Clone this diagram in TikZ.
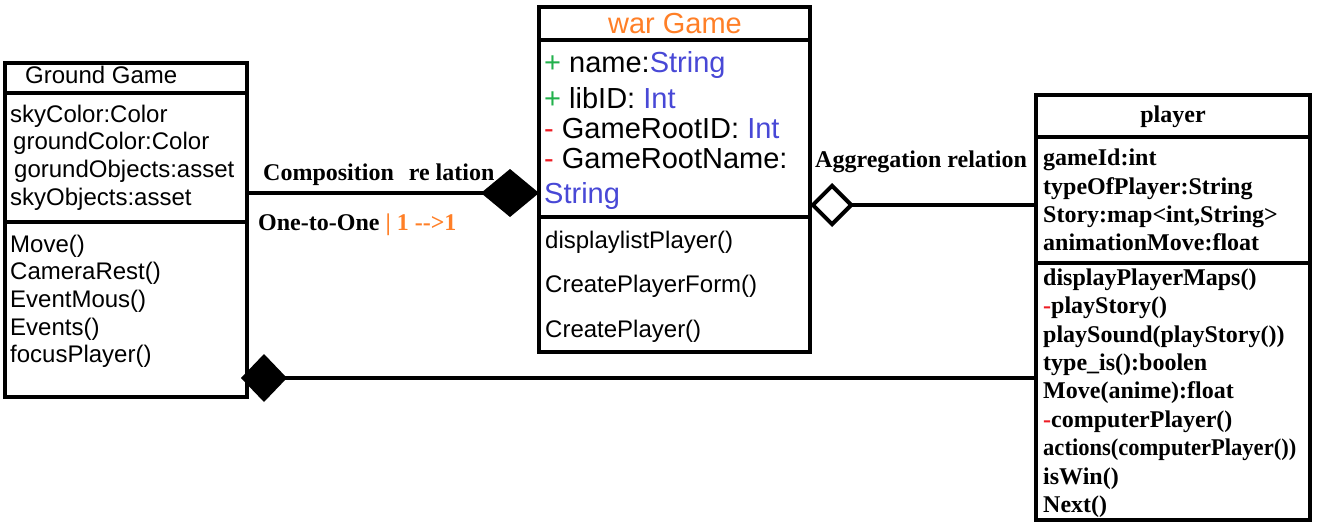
\documentclass[tikz,border=0pt]{standalone}
\usepackage{fontspec}
\setmainfont{Liberation Serif}
\setsansfont{Liberation Sans}
\usetikzlibrary{arrows.meta}

\definecolor{plusgreen}{RGB}{34,177,76}
\definecolor{minusred}{RGB}{237,28,36}
\definecolor{typeblue}{RGB}{72,72,214}
\definecolor{gameorange}{RGB}{255,127,39}

\newcommand{\groundfont}{\sffamily\fontsize{24}{27.7}\selectfont}
\newcommand{\warfont}{\sffamily\fontsize{29}{30}\selectfont}
\newcommand{\warsmall}{\sffamily\fontsize{24}{28}\selectfont}
\newcommand{\playerfont}{\rmfamily\bfseries\fontsize{24}{28.4}\selectfont}
\newcommand{\relfont}{\rmfamily\bfseries\fontsize{24}{28}\selectfont}

\tikzset{
  compart/.style={draw, line width=4.2pt, anchor=north west, outer sep=0pt, inner sep=0pt},
  txt/.style={anchor=north west, inner sep=0pt, align=left},
  link/.style={line width=4.5pt},
}

\begin{document}
\begin{tikzpicture}[x=1pt, y=-1pt]
  \useasboundingbox (0,0) rectangle (1317,525);
  % Ground Game
  \node[compart, minimum width=242pt, minimum height=30pt] (gt) at (5,63) {};
  \node[compart, minimum width=242pt, minimum height=129pt] (ga) at (5,93) {};
  \node[compart, minimum width=242pt, minimum height=175pt] (gm) at (5,222) {};
  \node[anchor=base west, inner sep=0pt, font=\groundfont] (gtt) at (25,83) {Ground Game};
  \node[txt, font=\groundfont] (gat) at (10,104.5) {skyColor:Color\\\hspace*{3pt}groundColor:Color\\\hspace*{4pt}gorundObjects:asset\\skyObjects:asset};
  \node[txt, font=\groundfont] (gmt) at (10,234.5) {Move()\\CameraRest()\\EventMous()\\Events()\\focusPlayer()};
  % war Game
  \node[compart, minimum width=271pt, minimum height=33pt] (wt) at (539,7) {};
  \node[compart, minimum width=271pt, minimum height=177pt] (wa) at (539,40) {};
  \node[compart, minimum width=271pt, minimum height=135pt] (wm) at (539,217) {};
  \node[anchor=base, inner sep=0pt, font=\warfont, text=gameorange] (wtt) at (675,33) {war Game};
  \node[txt, font=\warfont] (wat) at (544,51) {\textcolor{plusgreen}{+} name:\textcolor{typeblue}{String}\\[6pt]
    \textcolor{plusgreen}{+} libID: \textcolor{typeblue}{Int}\\
    \textcolor{minusred}{-} GameRootID: \textcolor{typeblue}{Int}\\
    \textcolor{minusred}{-} GameRootName:\\[5pt]
    \textcolor{typeblue}{String}};
  \node[txt, font=\warsmall] (wmt) at (545,230.5) {displaylistPlayer()\\[16.5pt]CreatePlayerForm()\\[16.5pt]CreatePlayer()};
  % player
  \node[compart, minimum width=274pt, minimum height=42pt] (pt) at (1036,95) {};
  \node[compart, minimum width=274pt, minimum height=126pt] (pa) at (1036,137) {};
  \node[compart, minimum width=274pt, minimum height=257pt] (pm) at (1036,263) {};
  \node[anchor=base, inner sep=0pt, font=\playerfont] (ptt) at (1173,122) {player};
  \node[txt, font=\playerfont] (pat) at (1043,148.8) {gameId:int\\typeOfPlayer:String\\Story:map<int,String>\\animationMove:float};
  \node[txt, font=\playerfont] (pmt) at (1043,268.4) {displayPlayerMaps()\\\textcolor{minusred}{-}playStory()\\playSound(playStory())\\type\_is():boolen\\Move(anime):float\\\textcolor{minusred}{-}computerPlayer()\\\scalebox{0.94}[1]{actions(computerPlayer())}\\isWin()\\Next()};
  % relations
  \node[anchor=base west, inner sep=0pt, font=\relfont] (comp) at (263,180) {Composition\hspace{15pt}re lation};
  \node[anchor=base west, inner sep=0pt, font=\relfont] (card) at (258,230) {One-to-One \textcolor{gameorange}{| 1 -\kern0pt-\kern0pt>1}};
  \node[anchor=base west, inner sep=0pt, font=\relfont] (aggr) at (815,167) {Aggregation relation};
  \draw[link, -{Diamond[length=58pt, width=48pt]}] (ga.east |- 0,193) -- (wa.west |- 0,193);
  \draw[link, -{Diamond[open, length=44pt, width=44pt, line width=4pt]}] (pa.west |- 0,205) -- (wa.east |- 0,205);
  \draw[link, -{Diamond[length=46pt, width=48pt]}] (pm.west |- 0,378) -- ([xshift=-6pt]gm.east |- 0,378);
\end{tikzpicture}
\end{document}
